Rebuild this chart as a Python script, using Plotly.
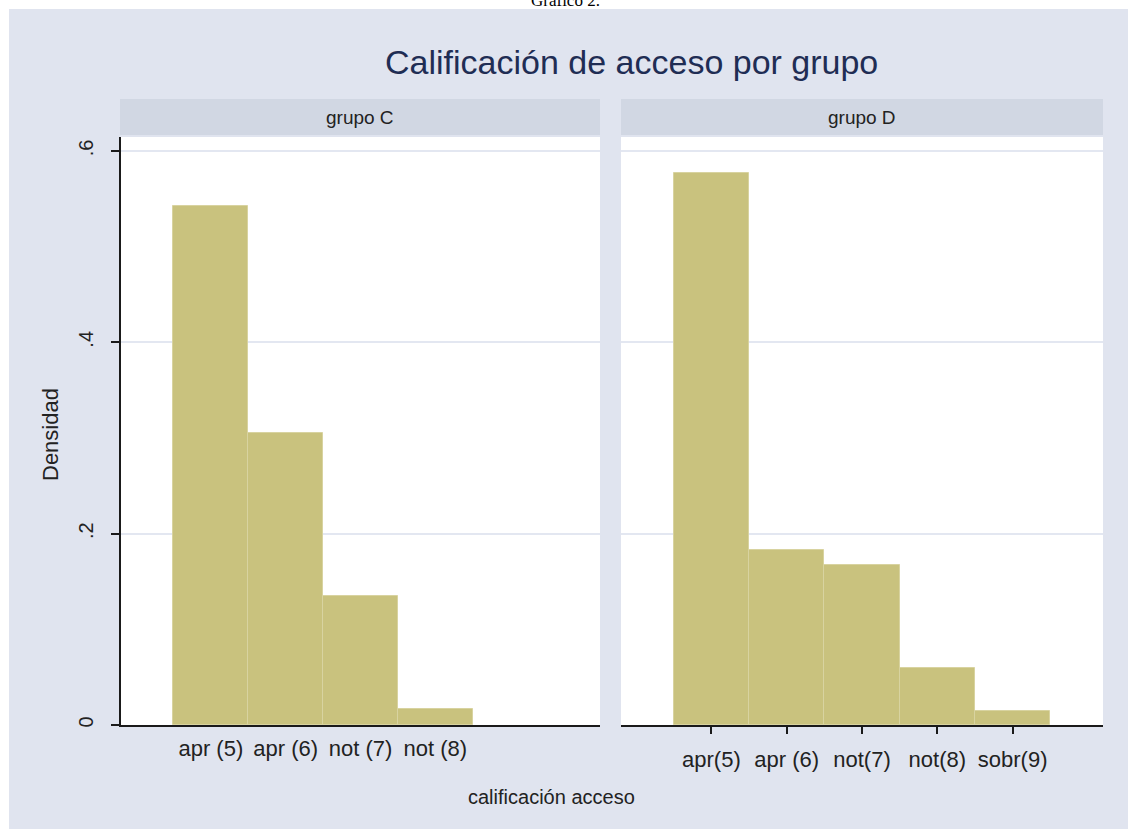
import plotly.graph_objects as go

# ---- data ----
grades_c = [5, 6, 7, 8]
density_c = [0.542, 0.305, 0.135, 0.017]
labels_c = ["apr (5)", "apr (6)", "not (7)", "not (8)"]

grades_d = [5, 6, 7, 8, 9]
density_d = [0.577, 0.183, 0.167, 0.060, 0.015]
labels_d = ["apr(5)", "apr (6)", "not(7)", "not(8)", "sobr(9)"]

y_ticks = [0, 0.2, 0.4, 0.6]
y_ticklabels = ["0", ".2", ".4", ".6"]

# ---- geometry (pixels) ----
W, H = 1128, 829
L, R, T, B = 121, 25, 100, 104
PW, PH = W - L - R, H - T - B
BG = "#E0E4EF"
STRIP = "#D1D7E3"
BAR = "#C9C27E"
BAR_LINE = "#D8D3A0"
GRID = "#E3E7F1"
FONT = "Liberation Sans, Arial, sans-serif"


def px_x(x):
    return (x - L) / PW


def px_y(y):
    return (H - B - y) / PH


left_dom = [0, px_x(600)]
right_dom = [px_x(621), 1]
y_dom = [0, px_y(137)]
xrange_ = [3.8, 10.2]
yrange_ = [0, 0.6146]

fig = go.Figure()
fig.add_trace(go.Bar(x=grades_c, y=density_c, width=1, marker=dict(color=BAR, line=dict(color=BAR_LINE, width=1)),
                     xaxis="x", yaxis="y", showlegend=False))
fig.add_trace(go.Bar(x=grades_d, y=density_d, width=1, marker=dict(color=BAR, line=dict(color=BAR_LINE, width=1)),
                     xaxis="x2", yaxis="y2", showlegend=False))

axis_common = dict(range=xrange_, showgrid=False, zeroline=False, showline=True, linecolor="#1a1a1a", linewidth=2,
                   tickfont=dict(family=FONT, size=22, color="#222"), fixedrange=True)

fig.update_layout(
    width=W, height=H,
    margin=dict(l=L, r=R, t=T, b=B, pad=0),
    paper_bgcolor=BG, plot_bgcolor="white",
    bargap=0,
    font=dict(family=FONT, color="#222"),
    xaxis=dict(domain=left_dom, anchor="y", tickvals=grades_c, ticktext=labels_c, ticks="",
               ticklabelstandoff=3, **axis_common),
    xaxis2=dict(domain=right_dom, anchor="y2", tickvals=grades_d, ticktext=labels_d, ticks="outside", ticklen=7,
                tickwidth=1.5, tickcolor="#1a1a1a", ticklabelstandoff=7, **axis_common),
    yaxis=dict(domain=y_dom, anchor="x", range=yrange_, tickvals=y_ticks, ticktext=y_ticklabels, tickangle=-90,
               ticks="outside", ticklen=8, tickwidth=1.5, tickcolor="#1a1a1a", showline=True, linecolor="#1a1a1a",
               linewidth=1.5, showgrid=True, gridcolor=GRID, gridwidth=2, zeroline=False, ticklabelstandoff=10,
               tickfont=dict(family=FONT, size=20, color="#222"), fixedrange=True),
    yaxis2=dict(domain=y_dom, anchor="x2", range=yrange_, tickvals=y_ticks, showticklabels=False, ticks="",
                showline=False, showgrid=True, gridcolor=GRID, gridwidth=2, zeroline=False, fixedrange=True),
)

shapes = []
# white page margins
shapes.append(dict(type="rect", xref="paper", yref="paper", x0=px_x(-5), x1=px_x(W + 5), y0=px_y(9), y1=px_y(-5),
                   fillcolor="white", line=dict(width=0), layer="below"))
shapes.append(dict(type="rect", xref="paper", yref="paper", x0=px_x(-5), x1=px_x(9), y0=px_y(H + 5), y1=px_y(-5),
                   fillcolor="white", line=dict(width=0), layer="below"))
# strips
for x0, x1 in [(120, 600), (621, 1103)]:
    shapes.append(dict(type="rect", xref="paper", yref="paper", x0=px_x(x0), x1=px_x(x1), y0=px_y(135), y1=px_y(99),
                       fillcolor=STRIP, line=dict(width=0), layer="below"))
fig.update_layout(shapes=shapes)

ann = []
ann.append(dict(text="Gráfico 2.", x=px_x(565), y=px_y(12), xref="paper", yref="paper", xanchor="center",
                yanchor="bottom", showarrow=False, font=dict(family="Liberation Serif, Times New Roman, serif",
                                                              size=17, color="black")))
ann.append(dict(text="Calificación de acceso por grupo", x=px_x(631), y=px_y(62), xref="paper", yref="paper",
                xanchor="center", yanchor="middle", showarrow=False, font=dict(family=FONT, size=34, color="#1F2D54")))
ann.append(dict(text="grupo C", x=px_x(360), y=px_y(117), xref="paper", yref="paper", xanchor="center",
                yanchor="middle", showarrow=False, font=dict(family=FONT, size=19, color="#222")))
ann.append(dict(text="grupo D", x=px_x(862), y=px_y(117), xref="paper", yref="paper", xanchor="center",
                yanchor="middle", showarrow=False, font=dict(family=FONT, size=19, color="#222")))
ann.append(dict(text="calificación acceso", x=px_x(551), y=px_y(797), xref="paper", yref="paper", xanchor="center",
                yanchor="middle", showarrow=False, font=dict(family=FONT, size=20, color="#222")))
ann.append(dict(text="Densidad", x=px_x(50), y=px_y(435), xref="paper", yref="paper", xanchor="center",
                yanchor="middle", textangle=-90, showarrow=False, font=dict(family=FONT, size=22, color="#222")))
fig.update_layout(annotations=ann)

fig.write_html("out.html", config={"displayModeBar": False},
               post_script="document.body.style.margin='0';document.body.style.overflow='hidden';")
